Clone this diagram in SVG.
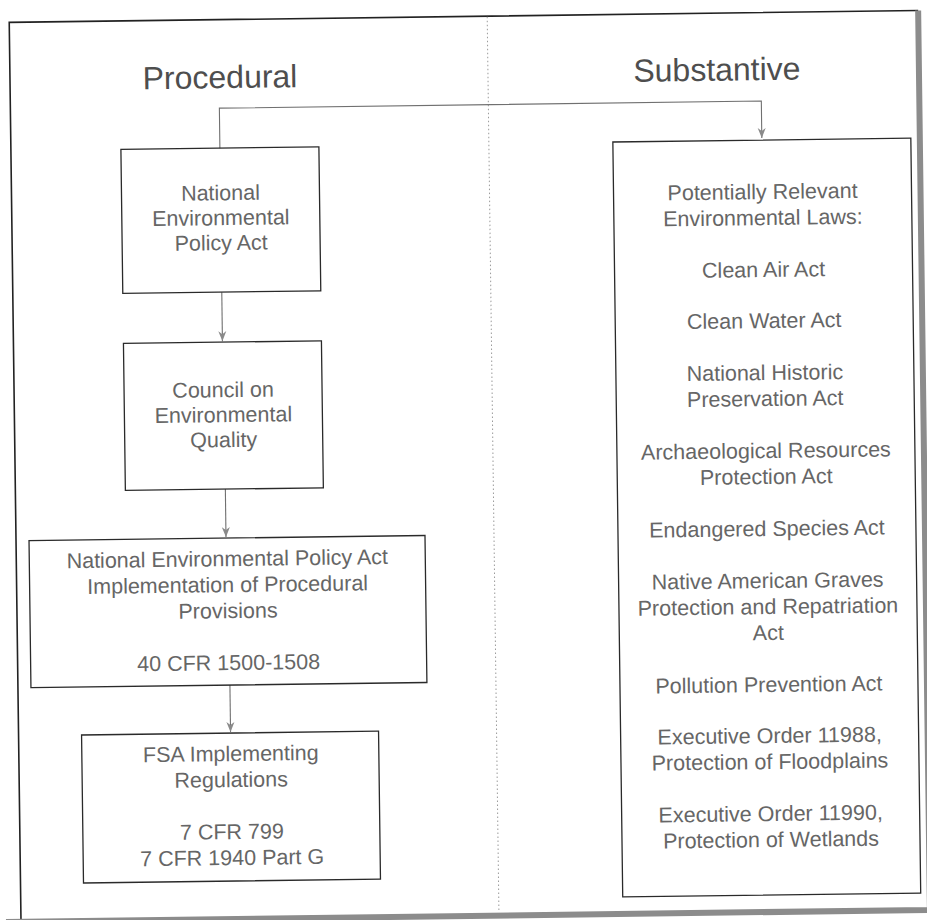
<svg xmlns="http://www.w3.org/2000/svg" width="927" height="920" viewBox="0 0 927 920">
<style>
  .box{fill:none;stroke:#2a2a2a;stroke-width:1.3}
  .t{font-family:"Liberation Sans",Arial,Helvetica,sans-serif;font-size:21.5px;fill:#666;text-anchor:middle}
  .title{font-size:32px;fill:#4e4e4e}
  .conn{stroke:#707070;stroke-width:1.1;fill:none}
</style>
<defs>
  <marker id="arr" markerUnits="userSpaceOnUse" markerWidth="10" markerHeight="10" refX="10" refY="5" orient="auto">
    <path d="M0,1 L10,5 L0,9 L3,5 z" fill="#8a8a8a"/>
  </marker>
</defs>
<rect width="927" height="920" fill="#fff"/>
<g transform="rotate(-0.75 463 460)">
  <g id="frame">
    <path d="M15,925 V16.5 H924" fill="none" stroke="#222" stroke-width="1.6"/>
    <path d="M924,16.5 V916 H0" fill="none" stroke="#8c8c8c" stroke-width="6"/>
    <line x1="493" y1="17" x2="493" y2="913" stroke="#9a9a9a" stroke-width="1" stroke-dasharray="1.5 2.5"/>
  </g>
  <g id="titles">
    <text class="t title" x="225" y="85">Procedural</text>
    <text class="t title" x="722" y="84">Substantive</text>
  </g>
  <g id="connectors">
    <path class="conn" d="M224,145 V105 H766 V142" marker-end="url(#arr)"/>
    <path class="conn" d="M224,289 V338" marker-end="url(#arr)"/>
    <path class="conn" d="M225,486 V534" marker-end="url(#arr)"/>
    <path class="conn" d="M227,682 V729" marker-end="url(#arr)"/>
  </g>
  <g id="nepa">
    <rect class="box" x="125" y="145" width="198" height="144"/>
    <text class="t" x="224" y="197">National</text>
    <text class="t" x="224" y="222">Environmental</text>
    <text class="t" x="224" y="247">Policy Act</text>
  </g>
  <g id="ceq">
    <rect class="box" x="125" y="339" width="198" height="147"/>
    <text class="t" x="224" y="394">Council on</text>
    <text class="t" x="224" y="419">Environmental</text>
    <text class="t" x="224" y="444">Quality</text>
  </g>
  <g id="nepa-impl">
    <rect class="box" x="28" y="535" width="396" height="147"/>
    <text class="t" x="226" y="563">National Environmental Policy Act</text>
    <text class="t" x="226" y="589">Implementation of Procedural</text>
    <text class="t" x="226" y="615">Provisions</text>
    <text class="t" x="226" y="667">40 CFR 1500-1508</text>
  </g>
  <g id="fsa">
    <rect class="box" x="78" y="730" width="297" height="148"/>
    <text class="t" x="227" y="758">FSA Implementing</text>
    <text class="t" x="227" y="784">Regulations</text>
    <text class="t" x="227" y="836">7 CFR 799</text>
    <text class="t" x="227" y="862">7 CFR 1940 Part G</text>
  </g>
  <g id="substantive">
    <rect class="box" x="617" y="144" width="298" height="755"/>
    <text class="t" x="766" y="203">Potentially Relevant</text>
    <text class="t" x="766" y="229">Environmental Laws:</text>
    <text class="t" x="766" y="281">Clean Air Act</text>
    <text class="t" x="766" y="332">Clean Water Act</text>
    <text class="t" x="766" y="384">National Historic</text>
    <text class="t" x="766" y="410">Preservation Act</text>
    <text class="t" x="766" y="462">Archaeological Resources</text>
    <text class="t" x="766" y="488">Protection Act</text>
    <text class="t" x="766" y="540">Endangered Species Act</text>
    <text class="t" x="766" y="592">Native American Graves</text>
    <text class="t" x="766" y="618">Protection and Repatriation</text>
    <text class="t" x="766" y="644">Act</text>
    <text class="t" x="766" y="696">Pollution Prevention Act</text>
    <text class="t" x="766" y="747">Executive Order 11988,</text>
    <text class="t" x="766" y="773">Protection of Floodplains</text>
    <text class="t" x="766" y="825">Executive Order 11990,</text>
    <text class="t" x="766" y="851">Protection of Wetlands</text>
  </g>
</g>
</svg>
